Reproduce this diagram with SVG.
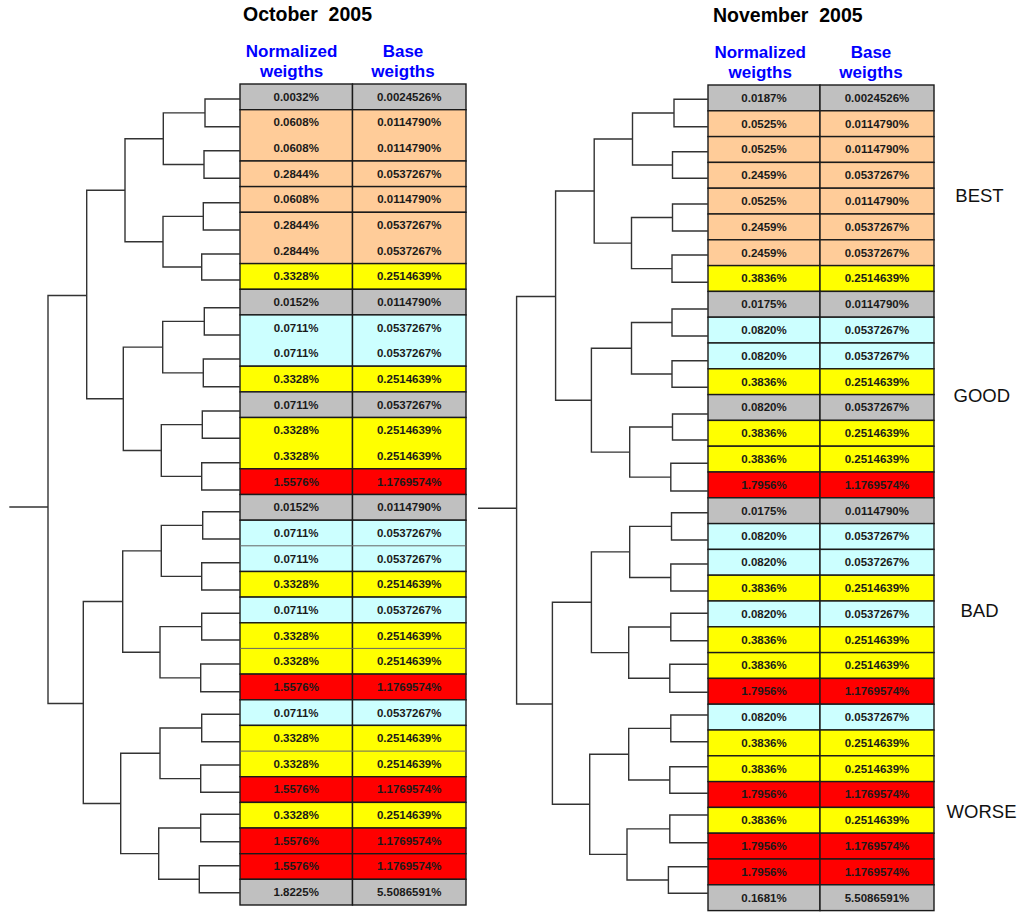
<svg xmlns="http://www.w3.org/2000/svg" width="1026" height="912" viewBox="0 0 1026 912">
<style>
.gr,.or,.ye,.cy,.rd{stroke:#1a1a1a;stroke-width:1.4}
.gr{fill:#C0C0C0}.or{fill:#FFCC99}.ye{fill:#FFFF00}.cy{fill:#CCFFFF}.rd{fill:#FF0000}
.v{font-family:'Liberation Sans',Arial,sans-serif;font-weight:bold;font-size:11.5px;fill:#1a1a1a;text-anchor:middle}
.h{font-family:'Liberation Sans',Arial,sans-serif;font-weight:bold;font-size:17px;fill:#0000FF;text-anchor:middle}
.t{font-family:'Liberation Sans',Arial,sans-serif;font-weight:bold;font-size:19.5px;fill:#000}
.lab{font-family:'Liberation Sans',Arial,sans-serif;font-size:18.5px;fill:#111}
.ln{fill:none;stroke:#333;stroke-width:1.4}
.sep{stroke:#666;stroke-width:1}
</style>
<rect width="1026" height="912" fill="#fff"/>
<text class="t" x="243" y="20.5" xml:space="preserve">October  2005</text>
<text class="t" x="713" y="21.5" xml:space="preserve">November  2005</text>
<text class="h" x="291.6" y="57.3">Normalized</text><text class="h" x="291.6" y="77.3">weigths</text>
<text class="h" x="403" y="57.3">Base</text><text class="h" x="403" y="77.3">weigths</text>
<text class="h" x="760.2" y="57.5">Normalized</text><text class="h" x="760.2" y="77.5">weigths</text>
<text class="h" x="871" y="57.5">Base</text><text class="h" x="871" y="77.5">weigths</text>
<text class="lab" x="955.3" y="201.7">BEST</text>
<text class="lab" x="953.5" y="402.3">GOOD</text>
<text class="lab" x="960.5" y="616.7">BAD</text>
<text class="lab" x="946.6" y="817.7">WORSE</text>

<g id="october">
<g id="oct-1" transform="translate(0,84)"><rect class="gr" x="240" width="112.5" height="25.7"/><rect class="gr" x="352.5" width="113.5" height="25.7"/><text class="v" x="296.2" y="16.8">0.0032%</text><text class="v" x="409.2" y="16.8">0.0024526%</text></g>
<g id="oct-2" transform="translate(0,109.7)"><rect class="or" x="240" width="112.5" height="51.3"/><rect class="or" x="352.5" width="113.5" height="51.3"/><text class="v" x="296.2" y="16.8">0.0608%</text><text class="v" x="409.2" y="16.8">0.0114790%</text><text class="v" x="296.2" y="42.4">0.0608%</text><text class="v" x="409.2" y="42.4">0.0114790%</text></g>
<g id="oct-4" transform="translate(0,161)"><rect class="or" x="240" width="112.5" height="25.6"/><rect class="or" x="352.5" width="113.5" height="25.6"/><text class="v" x="296.2" y="16.8">0.2844%</text><text class="v" x="409.2" y="16.8">0.0537267%</text></g>
<g id="oct-5" transform="translate(0,186.6)"><rect class="or" x="240" width="112.5" height="25.7"/><rect class="or" x="352.5" width="113.5" height="25.7"/><text class="v" x="296.2" y="16.8">0.0608%</text><text class="v" x="409.2" y="16.8">0.0114790%</text></g>
<g id="oct-6" transform="translate(0,212.3)"><rect class="or" x="240" width="112.5" height="51.3"/><rect class="or" x="352.5" width="113.5" height="51.3"/><text class="v" x="296.2" y="16.8">0.2844%</text><text class="v" x="409.2" y="16.8">0.0537267%</text><text class="v" x="296.2" y="42.4">0.2844%</text><text class="v" x="409.2" y="42.4">0.0537267%</text></g>
<g id="oct-8" transform="translate(0,263.6)"><rect class="ye" x="240" width="112.5" height="25.7"/><rect class="ye" x="352.5" width="113.5" height="25.7"/><text class="v" x="296.2" y="16.8">0.3328%</text><text class="v" x="409.2" y="16.8">0.2514639%</text></g>
<g id="oct-9" transform="translate(0,289.3)"><rect class="gr" x="240" width="112.5" height="25.6"/><rect class="gr" x="352.5" width="113.5" height="25.6"/><text class="v" x="296.2" y="16.8">0.0152%</text><text class="v" x="409.2" y="16.8">0.0114790%</text></g>
<g id="oct-10" transform="translate(0,314.9)"><rect class="cy" x="240" width="112.5" height="51.3"/><rect class="cy" x="352.5" width="113.5" height="51.3"/><text class="v" x="296.2" y="16.8">0.0711%</text><text class="v" x="409.2" y="16.8">0.0537267%</text><text class="v" x="296.2" y="42.4">0.0711%</text><text class="v" x="409.2" y="42.4">0.0537267%</text></g>
<g id="oct-12" transform="translate(0,366.2)"><rect class="ye" x="240" width="112.5" height="25.7"/><rect class="ye" x="352.5" width="113.5" height="25.7"/><text class="v" x="296.2" y="16.8">0.3328%</text><text class="v" x="409.2" y="16.8">0.2514639%</text></g>
<g id="oct-13" transform="translate(0,391.9)"><rect class="gr" x="240" width="112.5" height="25.6"/><rect class="gr" x="352.5" width="113.5" height="25.6"/><text class="v" x="296.2" y="16.8">0.0711%</text><text class="v" x="409.2" y="16.8">0.0537267%</text></g>
<g id="oct-14" transform="translate(0,417.5)"><rect class="ye" x="240" width="112.5" height="51.3"/><rect class="ye" x="352.5" width="113.5" height="51.3"/><text class="v" x="296.2" y="16.8">0.3328%</text><text class="v" x="409.2" y="16.8">0.2514639%</text><text class="v" x="296.2" y="42.4">0.3328%</text><text class="v" x="409.2" y="42.4">0.2514639%</text></g>
<g id="oct-16" transform="translate(0,468.8)"><rect class="rd" x="240" width="112.5" height="25.7"/><rect class="rd" x="352.5" width="113.5" height="25.7"/><text class="v" x="296.2" y="16.8">1.5576%</text><text class="v" x="409.2" y="16.8">1.1769574%</text></g>
<g id="oct-17" transform="translate(0,494.5)"><rect class="gr" x="240" width="112.5" height="25.7"/><rect class="gr" x="352.5" width="113.5" height="25.7"/><text class="v" x="296.2" y="16.8">0.0152%</text><text class="v" x="409.2" y="16.8">0.0114790%</text></g>
<g id="oct-18" transform="translate(0,520.2)"><rect class="cy" x="240" width="112.5" height="51.3"/><rect class="cy" x="352.5" width="113.5" height="51.3"/><line class="sep" x1="240" x2="466" y1="25.6" y2="25.6"/><text class="v" x="296.2" y="16.8">0.0711%</text><text class="v" x="409.2" y="16.8">0.0537267%</text><text class="v" x="296.2" y="42.4">0.0711%</text><text class="v" x="409.2" y="42.4">0.0537267%</text></g>
<g id="oct-20" transform="translate(0,571.5)"><rect class="ye" x="240" width="112.5" height="25.6"/><rect class="ye" x="352.5" width="113.5" height="25.6"/><text class="v" x="296.2" y="16.8">0.3328%</text><text class="v" x="409.2" y="16.8">0.2514639%</text></g>
<g id="oct-21" transform="translate(0,597.1)"><rect class="cy" x="240" width="112.5" height="25.7"/><rect class="cy" x="352.5" width="113.5" height="25.7"/><text class="v" x="296.2" y="16.8">0.0711%</text><text class="v" x="409.2" y="16.8">0.0537267%</text></g>
<g id="oct-22" transform="translate(0,622.8)"><rect class="ye" x="240" width="112.5" height="51.3"/><rect class="ye" x="352.5" width="113.5" height="51.3"/><line class="sep" x1="240" x2="466" y1="25.6" y2="25.6"/><text class="v" x="296.2" y="16.8">0.3328%</text><text class="v" x="409.2" y="16.8">0.2514639%</text><text class="v" x="296.2" y="42.4">0.3328%</text><text class="v" x="409.2" y="42.4">0.2514639%</text></g>
<g id="oct-24" transform="translate(0,674.1)"><rect class="rd" x="240" width="112.5" height="25.7"/><rect class="rd" x="352.5" width="113.5" height="25.7"/><text class="v" x="296.2" y="16.8">1.5576%</text><text class="v" x="409.2" y="16.8">1.1769574%</text></g>
<g id="oct-25" transform="translate(0,699.8)"><rect class="cy" x="240" width="112.5" height="25.6"/><rect class="cy" x="352.5" width="113.5" height="25.6"/><text class="v" x="296.2" y="16.8">0.0711%</text><text class="v" x="409.2" y="16.8">0.0537267%</text></g>
<g id="oct-26" transform="translate(0,725.4)"><rect class="ye" x="240" width="112.5" height="51.3"/><rect class="ye" x="352.5" width="113.5" height="51.3"/><line class="sep" x1="240" x2="466" y1="25.7" y2="25.7"/><text class="v" x="296.2" y="16.8">0.3328%</text><text class="v" x="409.2" y="16.8">0.2514639%</text><text class="v" x="296.2" y="42.5">0.3328%</text><text class="v" x="409.2" y="42.5">0.2514639%</text></g>
<g id="oct-28" transform="translate(0,776.7)"><rect class="rd" x="240" width="112.5" height="25.7"/><rect class="rd" x="352.5" width="113.5" height="25.7"/><text class="v" x="296.2" y="16.8">1.5576%</text><text class="v" x="409.2" y="16.8">1.1769574%</text></g>
<g id="oct-29" transform="translate(0,802.4)"><rect class="ye" x="240" width="112.5" height="25.6"/><rect class="ye" x="352.5" width="113.5" height="25.6"/><text class="v" x="296.2" y="16.8">0.3328%</text><text class="v" x="409.2" y="16.8">0.2514639%</text></g>
<g id="oct-30" transform="translate(0,828)"><rect class="rd" x="240" width="112.5" height="25.7"/><rect class="rd" x="352.5" width="113.5" height="25.7"/><text class="v" x="296.2" y="16.8">1.5576%</text><text class="v" x="409.2" y="16.8">1.1769574%</text></g>
<g id="oct-31" transform="translate(0,853.7)"><rect class="rd" x="240" width="112.5" height="25.6"/><rect class="rd" x="352.5" width="113.5" height="25.6"/><text class="v" x="296.2" y="16.8">1.5576%</text><text class="v" x="409.2" y="16.8">1.1769574%</text></g>
<g id="oct-32" transform="translate(0,879.3)"><rect class="gr" x="240" width="112.5" height="25.7"/><rect class="gr" x="352.5" width="113.5" height="25.7"/><text class="v" x="296.2" y="16.8">1.8225%</text><text class="v" x="409.2" y="16.8">5.5086591%</text></g>
</g>

<g id="november">
<g id="nov-1" transform="translate(0,85)"><rect class="gr" x="708" width="112" height="25.8"/><rect class="gr" x="820" width="114" height="25.8"/><text class="v" x="764" y="16.9">0.0187%</text><text class="v" x="877" y="16.9">0.0024526%</text></g>
<g id="nov-2" transform="translate(0,110.8)"><rect class="or" x="708" width="112" height="25.8"/><rect class="or" x="820" width="114" height="25.8"/><text class="v" x="764" y="16.9">0.0525%</text><text class="v" x="877" y="16.9">0.0114790%</text></g>
<g id="nov-3" transform="translate(0,136.6)"><rect class="or" x="708" width="112" height="25.8"/><rect class="or" x="820" width="114" height="25.8"/><text class="v" x="764" y="16.9">0.0525%</text><text class="v" x="877" y="16.9">0.0114790%</text></g>
<g id="nov-4" transform="translate(0,162.4)"><rect class="or" x="708" width="112" height="25.8"/><rect class="or" x="820" width="114" height="25.8"/><text class="v" x="764" y="16.9">0.2459%</text><text class="v" x="877" y="16.9">0.0537267%</text></g>
<g id="nov-5" transform="translate(0,188.2)"><rect class="or" x="708" width="112" height="25.8"/><rect class="or" x="820" width="114" height="25.8"/><text class="v" x="764" y="16.9">0.0525%</text><text class="v" x="877" y="16.9">0.0114790%</text></g>
<g id="nov-6" transform="translate(0,214)"><rect class="or" x="708" width="112" height="25.8"/><rect class="or" x="820" width="114" height="25.8"/><text class="v" x="764" y="16.9">0.2459%</text><text class="v" x="877" y="16.9">0.0537267%</text></g>
<g id="nov-7" transform="translate(0,239.8)"><rect class="or" x="708" width="112" height="25.8"/><rect class="or" x="820" width="114" height="25.8"/><text class="v" x="764" y="16.9">0.2459%</text><text class="v" x="877" y="16.9">0.0537267%</text></g>
<g id="nov-8" transform="translate(0,265.6)"><rect class="ye" x="708" width="112" height="25.8"/><rect class="ye" x="820" width="114" height="25.8"/><text class="v" x="764" y="16.9">0.3836%</text><text class="v" x="877" y="16.9">0.2514639%</text></g>
<g id="nov-9" transform="translate(0,291.4)"><rect class="gr" x="708" width="112" height="25.8"/><rect class="gr" x="820" width="114" height="25.8"/><text class="v" x="764" y="16.9">0.0175%</text><text class="v" x="877" y="16.9">0.0114790%</text></g>
<g id="nov-10" transform="translate(0,317.2)"><rect class="cy" x="708" width="112" height="25.8"/><rect class="cy" x="820" width="114" height="25.8"/><text class="v" x="764" y="16.9">0.0820%</text><text class="v" x="877" y="16.9">0.0537267%</text></g>
<g id="nov-11" transform="translate(0,343)"><rect class="cy" x="708" width="112" height="25.8"/><rect class="cy" x="820" width="114" height="25.8"/><text class="v" x="764" y="16.9">0.0820%</text><text class="v" x="877" y="16.9">0.0537267%</text></g>
<g id="nov-12" transform="translate(0,368.8)"><rect class="ye" x="708" width="112" height="25.8"/><rect class="ye" x="820" width="114" height="25.8"/><text class="v" x="764" y="16.9">0.3836%</text><text class="v" x="877" y="16.9">0.2514639%</text></g>
<g id="nov-13" transform="translate(0,394.6)"><rect class="gr" x="708" width="112" height="25.8"/><rect class="gr" x="820" width="114" height="25.8"/><text class="v" x="764" y="16.9">0.0820%</text><text class="v" x="877" y="16.9">0.0537267%</text></g>
<g id="nov-14" transform="translate(0,420.4)"><rect class="ye" x="708" width="112" height="25.8"/><rect class="ye" x="820" width="114" height="25.8"/><text class="v" x="764" y="16.9">0.3836%</text><text class="v" x="877" y="16.9">0.2514639%</text></g>
<g id="nov-15" transform="translate(0,446.2)"><rect class="ye" x="708" width="112" height="25.8"/><rect class="ye" x="820" width="114" height="25.8"/><text class="v" x="764" y="16.9">0.3836%</text><text class="v" x="877" y="16.9">0.2514639%</text></g>
<g id="nov-16" transform="translate(0,472)"><rect class="rd" x="708" width="112" height="25.8"/><rect class="rd" x="820" width="114" height="25.8"/><text class="v" x="764" y="16.9">1.7956%</text><text class="v" x="877" y="16.9">1.1769574%</text></g>
<g id="nov-17" transform="translate(0,497.8)"><rect class="gr" x="708" width="112" height="25.8"/><rect class="gr" x="820" width="114" height="25.8"/><text class="v" x="764" y="16.9">0.0175%</text><text class="v" x="877" y="16.9">0.0114790%</text></g>
<g id="nov-18" transform="translate(0,523.6)"><rect class="cy" x="708" width="112" height="25.8"/><rect class="cy" x="820" width="114" height="25.8"/><text class="v" x="764" y="16.9">0.0820%</text><text class="v" x="877" y="16.9">0.0537267%</text></g>
<g id="nov-19" transform="translate(0,549.4)"><rect class="cy" x="708" width="112" height="25.8"/><rect class="cy" x="820" width="114" height="25.8"/><text class="v" x="764" y="16.9">0.0820%</text><text class="v" x="877" y="16.9">0.0537267%</text></g>
<g id="nov-20" transform="translate(0,575.2)"><rect class="ye" x="708" width="112" height="25.8"/><rect class="ye" x="820" width="114" height="25.8"/><text class="v" x="764" y="16.9">0.3836%</text><text class="v" x="877" y="16.9">0.2514639%</text></g>
<g id="nov-21" transform="translate(0,601)"><rect class="cy" x="708" width="112" height="25.8"/><rect class="cy" x="820" width="114" height="25.8"/><text class="v" x="764" y="16.9">0.0820%</text><text class="v" x="877" y="16.9">0.0537267%</text></g>
<g id="nov-22" transform="translate(0,626.8)"><rect class="ye" x="708" width="112" height="25.8"/><rect class="ye" x="820" width="114" height="25.8"/><text class="v" x="764" y="16.9">0.3836%</text><text class="v" x="877" y="16.9">0.2514639%</text></g>
<g id="nov-23" transform="translate(0,652.6)"><rect class="ye" x="708" width="112" height="25.8"/><rect class="ye" x="820" width="114" height="25.8"/><text class="v" x="764" y="16.9">0.3836%</text><text class="v" x="877" y="16.9">0.2514639%</text></g>
<g id="nov-24" transform="translate(0,678.4)"><rect class="rd" x="708" width="112" height="25.8"/><rect class="rd" x="820" width="114" height="25.8"/><text class="v" x="764" y="16.9">1.7956%</text><text class="v" x="877" y="16.9">1.1769574%</text></g>
<g id="nov-25" transform="translate(0,704.2)"><rect class="cy" x="708" width="112" height="25.8"/><rect class="cy" x="820" width="114" height="25.8"/><text class="v" x="764" y="16.9">0.0820%</text><text class="v" x="877" y="16.9">0.0537267%</text></g>
<g id="nov-26" transform="translate(0,730)"><rect class="ye" x="708" width="112" height="25.8"/><rect class="ye" x="820" width="114" height="25.8"/><text class="v" x="764" y="16.9">0.3836%</text><text class="v" x="877" y="16.9">0.2514639%</text></g>
<g id="nov-27" transform="translate(0,755.8)"><rect class="ye" x="708" width="112" height="25.8"/><rect class="ye" x="820" width="114" height="25.8"/><text class="v" x="764" y="16.9">0.3836%</text><text class="v" x="877" y="16.9">0.2514639%</text></g>
<g id="nov-28" transform="translate(0,781.6)"><rect class="rd" x="708" width="112" height="25.8"/><rect class="rd" x="820" width="114" height="25.8"/><text class="v" x="764" y="16.9">1.7956%</text><text class="v" x="877" y="16.9">1.1769574%</text></g>
<g id="nov-29" transform="translate(0,807.4)"><rect class="ye" x="708" width="112" height="25.8"/><rect class="ye" x="820" width="114" height="25.8"/><text class="v" x="764" y="16.9">0.3836%</text><text class="v" x="877" y="16.9">0.2514639%</text></g>
<g id="nov-30" transform="translate(0,833.2)"><rect class="rd" x="708" width="112" height="25.8"/><rect class="rd" x="820" width="114" height="25.8"/><text class="v" x="764" y="16.9">1.7956%</text><text class="v" x="877" y="16.9">1.1769574%</text></g>
<g id="nov-31" transform="translate(0,859)"><rect class="rd" x="708" width="112" height="25.8"/><rect class="rd" x="820" width="114" height="25.8"/><text class="v" x="764" y="16.9">1.7956%</text><text class="v" x="877" y="16.9">1.1769574%</text></g>
<g id="nov-32" transform="translate(0,884.8)"><rect class="gr" x="708" width="112" height="25.8"/><rect class="gr" x="820" width="114" height="25.8"/><text class="v" x="764" y="16.9">0.1681%</text><text class="v" x="877" y="16.9">5.5086591%</text></g>
</g>

<g id="connectors" class="ln">
<path d="M240,99H205V126.7H240M240,150.7H204V178.3H240M240,202.7H203.3V230H240M240,254H201.7V280H240M240,307.7H204.3V335H240M240,359H203.3V386.7H240M240,411H202.3V438.3H240M240,462.7H201.7V490H240M240,511.7H202.7V539H240M240,562.7H201.7V590H240M240,613.3H201.7V640H240M240,664H200.7V691.7H240M240,714.3H201.7V741.7H240M240,765H200.7V792.3H240M240,814.3H200.7V841.7H240M240,865.7H199.3V892.7H240"/>
<path d="M205,112.85H163.3V164.5H204M203.3,216.35H163V267H201.7M204.3,321.35H162.7V372.85H203.3M202.3,424.65H161.3V476.35H201.7M202.7,525.35H161.3V576.35H201.7M201.7,626.65H160V677.85H200.7M201.7,728H160V778.65H200.7M200.7,828H158.7V879.2H199.3"/>
<path d="M163.3,138.7H125V241.7H163M162.7,347.1H123.3V450.5H161.3M161.3,550.85H122.7V652.25H160M160,753.3H120.7V853.6H158.7"/>
<path d="M125,190.2H86.7V398.8H123.3M122.7,601.55H83.3V803.45H120.7"/>
<path d="M86.7,295.5H48V703.5H83.3M9.3,507H48"/>
<path d="M708,99.3H674V126.7H708M708,151.7H672.5V178.3H708M708,204H672.5V231H708M708,255H672V282.3H708M708,309H672V336H708M708,360.7H672V387.3H708M708,414H672.5V440H708M708,463.3H670.8V491H708M708,512.7H671.5V540H708M708,564H670.8V591H708M708,613.3H670.8V640.7H708M708,664.3H669.8V692.3H708M708,715H670.8V741.7H708M708,766.7H669.8V793.3H708M708,815H669.8V842.7H708M708,866.7H668.4V893.3H708"/>
<path d="M674,113H632.5V165H672.5M672.5,217.5H631.5V268.65H672M672,322.5H631.5V374H672M672.5,427H629.7V477.15H670.8M671.5,526.35H629.7V577.5H670.8M670.8,627H628.7V678.3H669.8M670.8,728.35H628.7V780H669.8M669.8,828.85H627V880H668.4"/>
<path d="M632.5,139H594.2V243.1H631.5M631.5,348.25H591.4V452.1H629.7M629.7,551.9H591.4V652.65H628.7M628.7,754.2H589.7V854.4H627"/>
<path d="M594.2,191.05H555.6V400.2H591.4M591.4,602.3H552.4V804.3H589.7"/>
<path d="M555.6,296.5H516.6V704H552.4M478,508.3H516.6"/>
</g>
</svg>
